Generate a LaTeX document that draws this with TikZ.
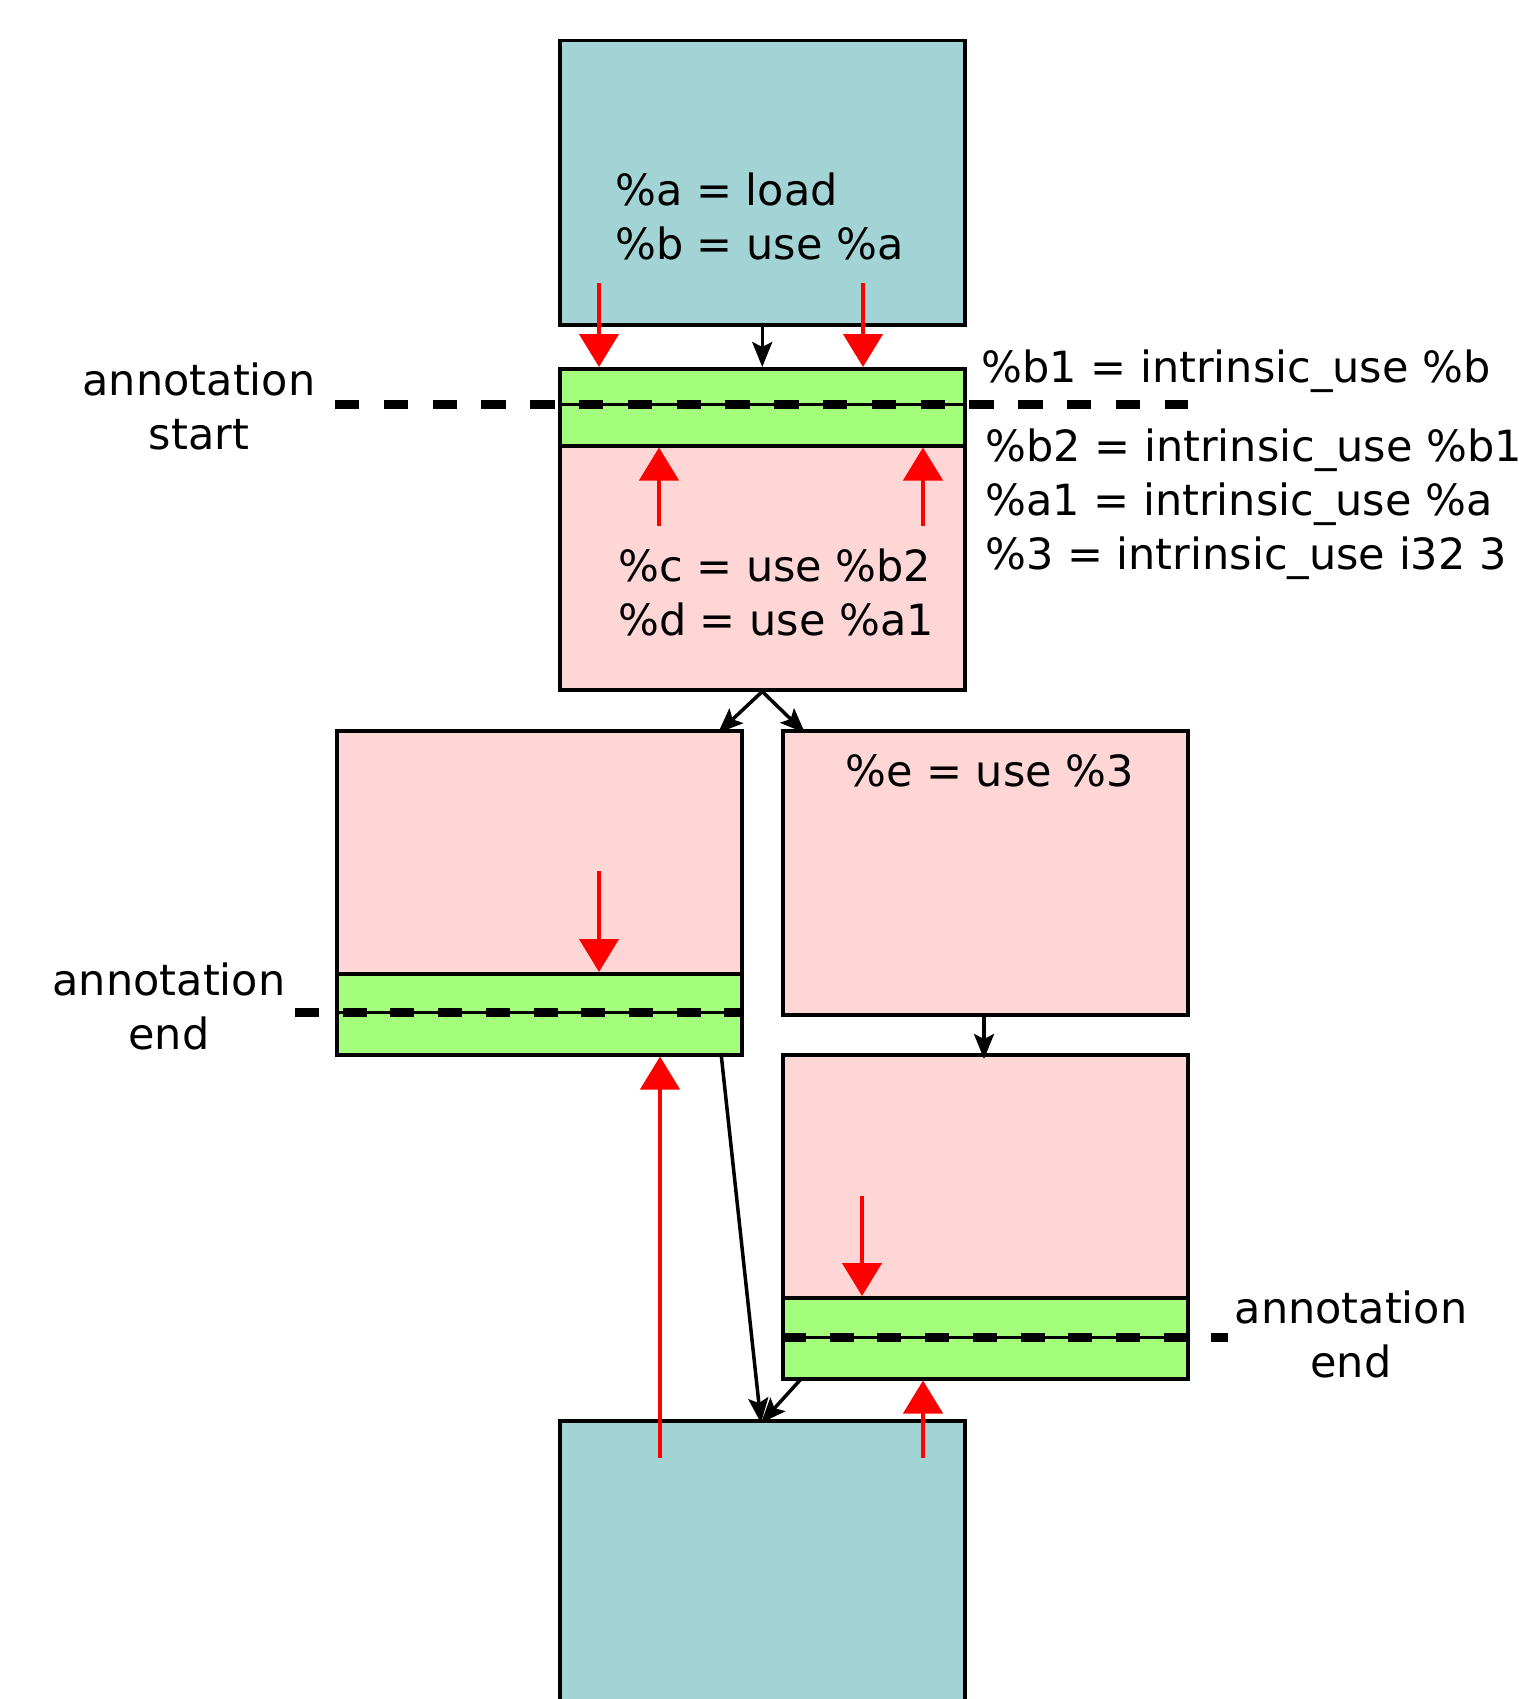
\documentclass[tikz,border=0pt]{standalone}
\usepackage{fontspec}
\setmainfont{DejaVu Sans}
\usetikzlibrary{arrows.meta}
\definecolor{tealc}{HTML}{A2D4D5}
\definecolor{pinkc}{HTML}{FFD6D6}
\definecolor{greenc}{HTML}{A3FF7B}
\tikzset{
  blk/.style={draw=black, line width=3.5pt, anchor=north west, inner sep=0pt, minimum width=405pt},
  tealbox/.style={blk, fill=tealc},
  pinkbox/.style={blk, fill=pinkc},
  greenbox/.style={blk, fill=greenc},
  txt/.style={inner sep=0pt, font=\fontsize{43}{54}\selectfont},
  flow/.style={draw=black, line width=3.5pt, -{Stealth[length=25pt,width=20pt,inset=5pt]}},
  redarr/.style={draw=red, line width=4.5pt, -{Triangle[length=33pt,width=39pt]}},
  annot/.style={line width=9pt, dash pattern=on 24.4pt off 24.4pt},
  annot2/.style={line width=9pt, dash pattern=on 24pt off 23.7pt},
  thinl/.style={line width=3pt}
}
\begin{document}
\begin{tikzpicture}[x=1pt,y=-1pt]
\useasboundingbox (0,0) rectangle (1518,1699);
\clip (0,0) rectangle (1518,1699);
% boxes
\node[tealbox, minimum height=284pt] (top) at (558,39) {};
\node[pinkbox, minimum height=244pt] (p1) at (558,444) {};
\node[greenbox, minimum height=77pt] (g1) at (558,367) {};
\node[pinkbox, minimum height=243pt] (L) at (335,729) {};
\node[greenbox, minimum height=81pt] (Lg) at (335,972) {};
\node[pinkbox, minimum height=284pt] (R) at (781,729) {};
\node[pinkbox, minimum height=243pt] (R2) at (781,1053) {};
\node[greenbox, minimum height=81pt] (R2g) at (781,1296) {};
\node[tealbox, minimum height=320pt] (bot) at (558,1419) {};
% texts
\node[txt, anchor=west, align=left] (ta) at (615,216) {\%a = load\\\%b = use \%a};
\node[txt, anchor=west, align=left] (tc) at (618,592) {\%c = use \%b2\\\%d = use \%a1};
\node[txt, anchor=west] (te) at (845,771) {\%e = use \%3};
\node[txt, anchor=west] (tb1) at (981,371) {\%b1 = intrinsic\_use \%b};
\node[txt, anchor=west, align=left] (tb2) at (985,504) {\%b2 = intrinsic\_use \%b1\\\%a1 = intrinsic\_use \%a\\\%3 = intrinsic\_use i32 3};
\node[txt, align=center] (as) at (199,406) {annotation\\start};
\node[txt, align=center] (ae1) at (169,1006) {annotation\\end};
\node[txt, align=center] (ae2) at (1351,1334) {annotation\\end};
% annotation lines
\coordinate (s1) at (335,404); \coordinate (s2) at (1188,404);
\draw[thinl] (g1.west |- s1) -- (g1.east |- s1);
\draw[annot] (s1) -- (s2);
\coordinate (e1) at (295,1012); \coordinate (e2) at (741,1012);
\draw[thinl] (Lg.west |- e1) -- (Lg.east |- e1);
\draw[annot2] (e1) -- (e2);
\coordinate (f1) at (782,1337); \coordinate (f2) at (1228,1337);
\draw[thinl] (R2g.west |- f1) -- (R2g.east |- f1);
\draw[annot2] (f1) -- (f2);
% black flow arrows
\draw[flow] (top.south) -- (g1.north);
\coordinate (tL) at (718,733);
\coordinate (tR) at (805,733);
\draw[flow] (p1.south) -- (tL);
\draw[flow] (p1.south) -- (tR);
\coordinate (rt) at (984,1059);
\draw[flow] (R.south -| rt) -- (rt);
\coordinate (lgs) at (721,1053);
\coordinate (bt) at (761,1423);
\draw[flow] (lgs) -- (bt);
\coordinate (r2s) at (801,1379);
\draw[flow] (r2s) -- (bt);
% red arrows
\coordinate (ra1) at (599,283); \coordinate (ra2) at (863,283);
\draw[redarr] (ra1) -- (ra1 |- g1.north);
\draw[redarr] (ra2) -- (ra2 |- g1.north);
\coordinate (rb1) at (659,526); \coordinate (rb2) at (923,526);
\draw[redarr] (rb1) -- (rb1 |- g1.south);
\draw[redarr] (rb2) -- (rb2 |- g1.south);
\coordinate (rc1) at (599,871);
\draw[redarr] (rc1) -- (rc1 |- Lg.north);
\coordinate (rd1) at (660,1458);
\draw[redarr] (rd1) -- (rd1 |- Lg.south);
\coordinate (re1) at (862,1196);
\draw[redarr] (re1) -- (re1 |- R2g.north);
\coordinate (rf1) at (923,1458);
\draw[redarr] (rf1) -- (rf1 |- R2g.south);
\end{tikzpicture}
\end{document}
